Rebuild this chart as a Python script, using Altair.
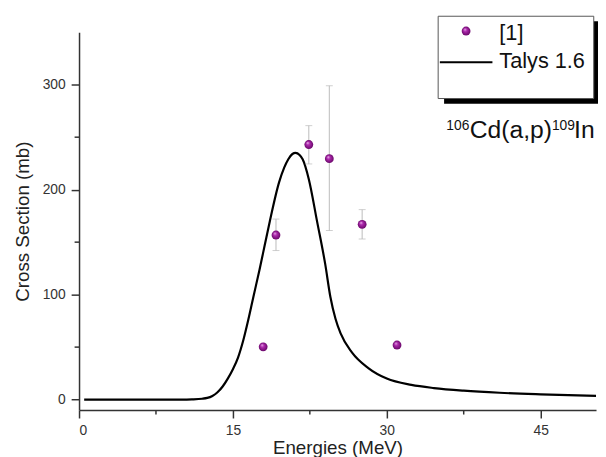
import altair as alt
import pandas as pd

# Experimental data [1]
energy_pts = [17.95, 19.2, 22.4, 24.4, 27.6, 31.0]
xs_pts = [50.3, 156.8, 243.0, 229.5, 167.0, 52.0]
err_lo = [None, 142.0, 224.5, 161.0, 153.0, None]
err_hi = [None, 172.0, 261.0, 299.0, 181.0, None]

# Talys 1.6 curve
talys_e = [0.5, 5, 10, 11.0, 12.0, 12.5, 13.0, 13.5, 14.0, 14.5, 15.0, 15.5, 16.0,
           16.5, 17.0, 17.6, 18.1, 18.6, 19.5, 20.0, 20.4, 20.8, 21.1, 21.5, 21.8,
           22.4, 23.2, 24.0, 24.5, 25.0, 25.5, 26.6, 28.2, 30.0, 32.4, 34.6, 37.5,
           41.0, 45.0, 50.4]
talys_xs = [0, 0, 0, 0.2, 0.8, 1.6, 3.5, 7, 12.5, 20, 29, 40, 56,
            76, 98, 124, 147, 170, 207, 221, 229, 234, 235, 233, 229,
            210, 170, 129, 98, 77, 63, 45, 30, 20, 14, 11, 8.5,
            6.5, 5, 3.5]

x_major = [0, 15, 30, 45]
x_minor = [7.5, 22.5, 37.5]
y_major = [0, 100, 200, 300]
y_minor = [50, 150, 250]

legend_labels = ["[1]", "Talys 1.6"]
reaction_parts = ["106", "Cd(a,p)", "109", "In"]

FONT = "Liberation Sans"
AX = "#333333"

pts = pd.DataFrame({"E": energy_pts, "XS": xs_pts, "lo": err_lo, "hi": err_hi})
errs = pts.dropna()
curve = pd.DataFrame({"E": talys_e, "XS": talys_xs})

xscale = alt.Scale(domain=[0, 50.4], nice=False, zero=False)
yscale = alt.Scale(domain=[-10, 350], nice=False, zero=False)

common_axis = dict(grid=False, labelFont=FONT, labelFontSize=14, labelColor=AX,
                   titleFont=FONT, titleFontSize=19, titleFontWeight="normal",
                   titleColor="#222222", tickSize=8, tickWidth=1.5, tickColor=AX,
                   domainColor=AX, domainWidth=1.5, labelPadding=6)

xaxis = alt.Axis(values=x_major, title="Energies (MeV)", titlePadding=1, **common_axis)
yaxis = alt.Axis(values=y_major, title="Cross Section (mb)", titlePadding=10, **common_axis)

line = alt.Chart(curve).mark_line(color="black", strokeWidth=2.2, interpolate="monotone").encode(
    x=alt.X("E:Q", scale=xscale, axis=xaxis),
    y=alt.Y("XS:Q", scale=yscale, axis=yaxis),
)

ebar = alt.Chart(errs).mark_rule(color="#bbbbbb", strokeWidth=1).encode(
    x=alt.X("E:Q", scale=xscale), y=alt.Y("lo:Q", scale=yscale), y2="hi:Q")
cap_lo = alt.Chart(errs).mark_tick(color="#bbbbbb", thickness=1, size=7, orient="horizontal").encode(
    x=alt.X("E:Q", scale=xscale), y=alt.Y("lo:Q", scale=yscale))
cap_hi = alt.Chart(errs).mark_tick(color="#bbbbbb", thickness=1, size=7, orient="horizontal").encode(
    x=alt.X("E:Q", scale=xscale), y=alt.Y("hi:Q", scale=yscale))

grad = alt.RadialGradient(
    gradient="radial",
    stops=[alt.GradientStop(color="#f4d4f4", offset=0),
           alt.GradientStop(color="#b22cb2", offset=0.35),
           alt.GradientStop(color="#6a086a", offset=1)],
    x1=0.35, y1=0.3, r1=0, x2=0.5, y2=0.5, r2=0.5)

points = alt.Chart(pts).mark_circle(fill=grad, opacity=1, size=80).encode(
    x=alt.X("E:Q", scale=xscale), y=alt.Y("XS:Q", scale=yscale))

xminor = alt.Chart(pd.DataFrame({"m": x_minor})).mark_rule(color=AX, strokeWidth=1.5).encode(
    x=alt.X("m:Q", scale=xscale), y=alt.value(383), y2=alt.value(387.5))
yminor = alt.Chart(pd.DataFrame({"m": y_minor})).mark_rule(color=AX, strokeWidth=1.5).encode(
    y=alt.Y("m:Q", scale=yscale), x=alt.value(-4.5), x2=alt.value(0))

one = pd.DataFrame({"k": [0]})
shadow = alt.Chart(one).mark_rect(fill="black").encode(
    x=alt.value(370), x2=alt.value(528), y=alt.value(-11), y2=alt.value(72.5))
box = alt.Chart(one).mark_rect(fill="white", stroke="#555555", strokeWidth=1).encode(
    x=alt.value(364), x2=alt.value(521.7), y=alt.value(-16.2), y2=alt.value(67.2))
leg_pt = alt.Chart(one).mark_circle(fill=grad, opacity=1, size=80).encode(
    x=alt.value(392.3), y=alt.value(-1.2))
leg_line = alt.Chart(one).mark_rule(color="black", strokeWidth=2).encode(
    x=alt.value(365.7), x2=alt.value(419), y=alt.value(30.5))
leg_txt = alt.Chart(pd.DataFrame({"t": legend_labels, "yy": [8.2, 36.2]})).mark_text(
    align="left", baseline="alphabetic", font=FONT, fontSize=22, color="#111111").encode(
    x=alt.value(426), y=alt.Y("yy:Q", scale=None), text="t:N")

ann = pd.DataFrame({"t": reaction_parts,
                    "xx": [372.3, 396.0, 479.3, 501.7],
                    "yy": [98.8, 107.2, 98.8, 107.2],
                    "fs": [14, 25, 14, 25]})
ann_txt = alt.Chart(ann).mark_text(align="left", baseline="alphabetic", font=FONT,
                                   color="#111111").encode(
    x=alt.X("xx:Q", scale=None), y=alt.Y("yy:Q", scale=None), text="t:N",
    size=alt.Size("fs:Q", scale=None, legend=None))

chart = alt.layer(
    line, ebar, cap_lo, cap_hi, points, xminor, yminor,
    shadow, box, leg_pt, leg_line, leg_txt, ann_txt
).properties(
    width=524, height=383,
    autosize=alt.AutoSizeParams(type="none"),
    padding={"left": 72, "top": 21.5, "right": 2, "bottom": 45},
    background="white",
).configure_view(stroke=None)

chart.save("out.html", embed_options={"renderer": "svg", "actions": False})
